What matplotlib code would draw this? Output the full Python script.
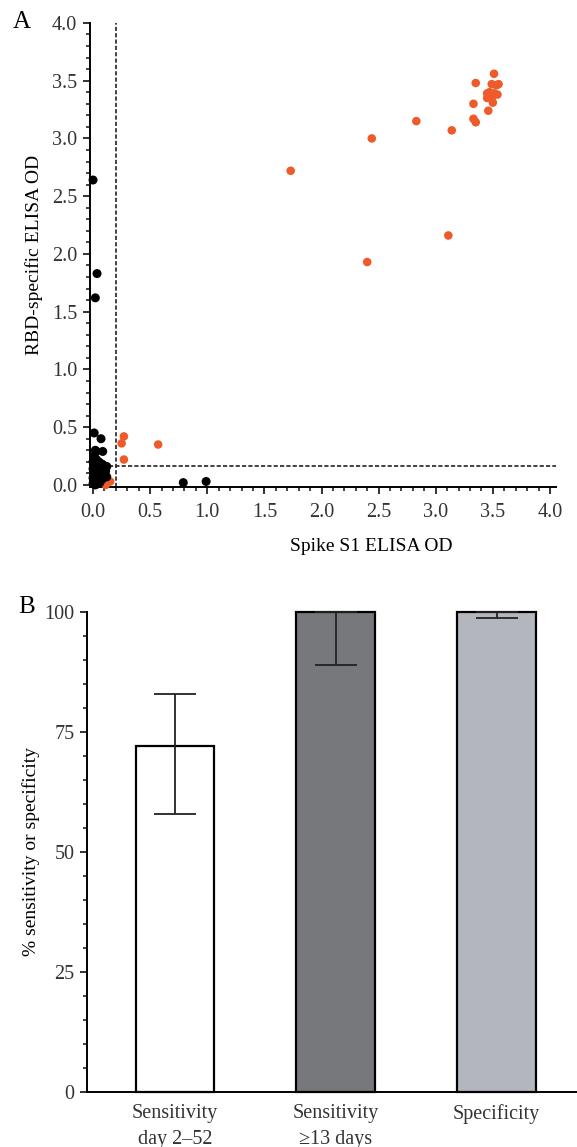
import matplotlib
matplotlib.use("Agg")
import matplotlib.pyplot as plt
from matplotlib.ticker import MultipleLocator

plt.rcParams['font.family'] = ['Liberation Serif', 'DejaVu Serif']

# panel A: ELISA ODs
pos_x = [3.51, 3.35, 3.49, 3.53, 3.55, 3.47, 3.51, 3.45, 3.54, 3.49, 3.45, 3.50, 3.33,
         3.46, 3.33, 3.35, 3.14, 2.83, 2.44, 1.73, 2.40, 3.11, 0.27, 0.25, 0.27, 0.57,
         0.15, 0.11, 0.09, 0.07]
pos_y = [3.56, 3.48, 3.47, 3.46, 3.47, 3.40, 3.39, 3.39, 3.38, 3.35, 3.35, 3.31, 3.30,
         3.24, 3.17, 3.14, 3.07, 3.15, 3.00, 2.72, 1.93, 2.16, 0.42, 0.36, 0.22, 0.35,
         0.03, 0.00, 0.03, 0.14]
neg_x = [0.01, 0.07, 0.03, 0.085, 0.01, 0.03, 0.05, 0.08, 0.10, 0.04, 0.00, 0.02, 0.06,
         0.01, 0.03, 0.05, 0.07, 0.09, 0.12, 0.00, 0.02, 0.04, 0.06, 0.08, 0.01, 0.03,
         0.05, 0.00, 0.02, 0.04, 0.06, 0.11, 0.01, 0.03, 0.00, 0.02, 0.05, 0.79, 0.99,
         0.00, 0.035, 0.02, 0.06, 0.09, 0.02, 0.12]
neg_y = [0.45, 0.40, 0.29, 0.29, 0.25, 0.22, 0.20, 0.18, 0.16, 0.15, 0.14, 0.13, 0.12,
         0.11, 0.10, 0.09, 0.08, 0.10, 0.07, 0.06, 0.05, 0.06, 0.04, 0.05, 0.03, 0.02,
         0.03, 0.01, 0.00, 0.01, 0.02, 0.12, 0.18, 0.07, 0.20, 0.03, 0.15, 0.02, 0.03,
         2.64, 1.83, 1.62, 0.19, 0.17, 0.30, 0.16]
cut_s1 = 0.2
cut_rbd = 0.16

# panel B: sensitivity / specificity
categories = ['Sensitivity\nday 2\u201352', 'Sensitivity\n\u226513 days', 'Specificity']
percent = [72, 100, 100]
ci_low = [58, 89, 98.8]
ci_high = [83, 100, 100]
bar_colors = ['white', '#77787c', '#b4b6bd']

fig = plt.figure(figsize=(5.77, 11.47), dpi=100)

# ---- A ----
ax1 = fig.add_axes([0.1553, 0.5752, 0.8078, 0.4048])
ax1.axvline(cut_s1, ymin=0, ymax=1, color='#222222', lw=1.2, ls=(0, (2.5, 1.3)), zorder=1)
ax1.axhline(cut_rbd, color='#222222', lw=1.2, ls=(0, (2.5, 1.3)), zorder=1)
ax1.scatter(pos_x, pos_y, s=38, color='#ee5a2a', edgecolors='none', zorder=3, clip_on=False)
ax1.scatter(neg_x, neg_y, s=42, color='black', edgecolors='none', zorder=4, clip_on=False)
ax1.set_xlim(-0.03, 4.05)
ax1.set_ylim(-0.02, 4.0)
ax1.xaxis.set_minor_locator(MultipleLocator(0.1))
ax1.yaxis.set_minor_locator(MultipleLocator(0.1))
ax1.set_xticks([i * 0.5 for i in range(9)])
ax1.set_xticklabels(['%.1f' % (i * 0.5) for i in range(9)])
ax1.set_yticks([i * 0.5 for i in range(9)])
ax1.set_yticklabels(['%.1f' % (i * 0.5) for i in range(9)])
ax1.set_xlabel('Spike S1 ELISA OD', fontsize=14)
ax1.xaxis.set_label_coords(0.604, -0.11)
ax1.set_ylabel('RBD-specific ELISA OD', fontsize=14)
ax1.yaxis.set_label_coords(-0.1, 0.5)

# ---- B ----
ax2 = fig.add_axes([0.1508, 0.048, 0.8492, 0.4185])
xs = list(range(len(categories)))
ax2.bar(xs, percent, width=0.49, color=bar_colors, edgecolor='black', linewidth=1.6,
        zorder=2, clip_on=False)
err_lo = [p - l for p, l in zip(percent, ci_low)]
err_hi = [h - p for p, h in zip(percent, ci_high)]
ax2.errorbar(xs, percent, yerr=[err_lo, err_hi], fmt='none', ecolor='#222222',
             elinewidth=1.3, capsize=15, capthick=1.3, zorder=3, clip_on=False)
ax2.set_xlim(-0.547, 2.5)
ax2.set_ylim(0, 100)
ax2.set_yticks([0, 25, 50, 75, 100])
ax2.yaxis.set_minor_locator(MultipleLocator(5))
ax2.set_xticks(xs)
ax2.set_xticklabels(categories, linespacing=1.45)
ax2.set_ylabel('% sensitivity or specificity', fontsize=14)
ax2.yaxis.set_label_coords(-0.095, 0.5)

for ax in (ax1, ax2):
    for side in ('top', 'right'):
        ax.spines[side].set_visible(False)
    for side in ('left', 'bottom'):
        ax.spines[side].set_linewidth(1.4)
    ax.tick_params(which='major', direction='out', length=5, width=1.3,
                   labelsize=14.5, pad=4, color='#222222', labelcolor='#333333')
    ax.tick_params(which='minor', direction='out', length=3, width=1.2, color='#222222')

ax2.tick_params(axis='x', which='both', length=0, pad=9)
ax1.tick_params(axis='x', which='major', pad=6)

fig.text(22 / 577, 1 - 22 / 1147, 'A', fontsize=18, ha='center', va='center')
fig.text(27 / 577, 1 - 607 / 1147, 'B', fontsize=18, ha='center', va='center')

fig.savefig('out.png', dpi=100)
